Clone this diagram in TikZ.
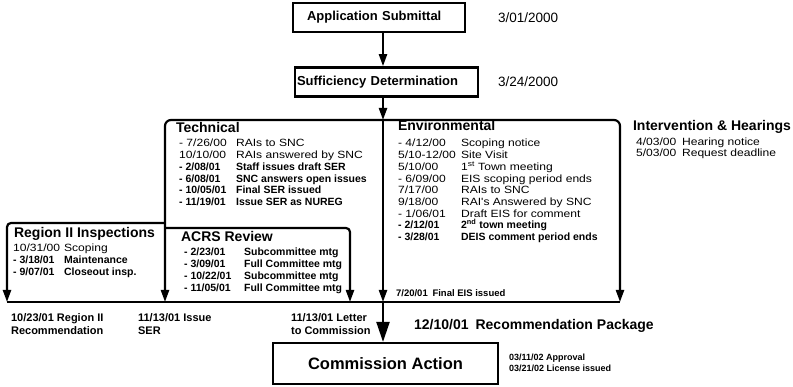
\documentclass[tikz,border=0pt]{standalone}
\usepackage{fontspec}
\setmainfont{Liberation Sans}
\newfontfamily\widefont[FakeStretch=1.15]{Liberation Sans}
\usetikzlibrary{arrows.meta}
\newlength\datewd
\newcommand{\when}[1]{\makebox[\datewd][l]{#1}}
\begin{document}
\begin{tikzpicture}[x=1pt, y=-1pt, line width=2.2pt,
    >={Triangle[length=12pt,width=8pt]},
    stage/.style={draw, line width=2.6pt, minimum height=29pt, inner sep=0pt, font=\fontsize{13}{15}\selectfont\bfseries},
    heading/.style={anchor=base west, inner sep=0pt, font=\fontsize{14}{16}\selectfont\bfseries},
    due/.style={anchor=base west, inner sep=0pt, font=\fontsize{10.5}{12}\selectfont\bfseries},
    done/.style={anchor=base west, inner sep=0pt, font=\fontsize{10.5}{12}\selectfont\widefont},
    milestone/.style={anchor=base west, inner sep=0pt, font=\fontsize{11}{13}\selectfont\bfseries}]
  \useasboundingbox[fill=white] (0,0) rectangle (793,387);

  % stages
  \node[stage, text width=144pt, inner xsep=14pt, align=left] (appsub) at (379,17.5) {Application Submittal};
  \node[stage, text width=179pt, inner xsep=2pt, align=left] (suffdet) at (386.5,82) {Sufficiency Determination};
  \node[stage, minimum width=225pt, minimum height=41pt, line width=2.2pt,
    font=\fontsize{16.5}{18}\selectfont\bfseries] (commission) at (385.5,363.5) {Commission Action};
  \node[anchor=west, inner sep=0pt, font=\fontsize{13.5}{15}\selectfont] (subdate) at (497,17.5) {3/01/2000};
  \node[anchor=west, inner sep=0pt, font=\fontsize{13.5}{15}\selectfont] (suffdate) at (497,82) {3/24/2000};

  % corners of the review tracks
  \coordinate (topbar) at (383,120);
  \coordinate (techcorner) at (165,120);
  \coordinate (envcorner) at (620,120);
  \coordinate (regjoin) at (165,223);
  \coordinate (regcorner) at (7,223);
  \coordinate (acrsjoin) at (165,228);
  \coordinate (acrscorner) at (350,228);
  \coordinate (basew) at (7,302);
  \coordinate (baseser) at (165,302);
  \coordinate (baseacrs) at (350,302);
  \coordinate (basec) at (383,302);
  \coordinate (basee) at (620,302);

  \draw[->] (appsub.south -| topbar) -- (suffdet.north -| topbar);
  \draw[->] (suffdet.south -| topbar) -- (topbar);
  \draw[->] (topbar) -- (basec);
  \draw[<->, rounded corners=6pt] (baseser) -- (techcorner) -- (envcorner) -- (basee);
  \draw[->, rounded corners=4pt] (regjoin) -- (regcorner) -- (basew);
  \draw[->, rounded corners=4pt] (acrsjoin) -- (acrscorner) -- (baseacrs);
  \draw (basew) -- (basee);
  \draw[-{Triangle[length=20pt,width=13pt]}] (basec) -- (commission.north -| basec);

  % headings
  \node[heading] (tech) at (175,133) {Technical};
  \node[heading] (env) at (397,131) {Environmental};
  \node[heading] (hear) at (632,131) {Intervention \& Hearings};
  \node[heading] (region) at (13,238) {Region II Inspections};
  \node[heading] (acrs) at (180,242) {ACRS Review};

  % technical review
  \setlength\datewd{57pt}
  \node[done] (tech1) at (178,147) {\when{- 7/26/00}RAIs to SNC};
  \node[done] (tech2) at (178,158.7) {\when{10/10/00}RAIs answered by SNC};
  \node[due] (tech3) at (178,170.4) {\when{- 2/08/01}Staff issues draft SER};
  \node[due] (tech4) at (178,182.1) {\when{- 6/08/01}SNC answers open issues};
  \node[due] (tech5) at (178,193.8) {\when{- 10/05/01}Final SER issued};
  \node[due] (tech6) at (178,205.5) {\when{- 11/19/01}Issue SER as NUREG};

  % environmental review
  \setlength\datewd{63pt}
  \node[done] (env1) at (397,147) {\when{- 4/12/00}Scoping notice};
  \node[done] (env2) at (397,158.7) {\when{5/10-12/00}Site Visit};
  \node[done] (env3) at (397,170.4) {\when{5/10/00}1\textsuperscript{st} Town meeting};
  \node[done] (env4) at (397,182.1) {\when{- 6/09/00}EIS scoping period ends};
  \node[done] (env5) at (397,193.8) {\when{7/17/00}RAIs to SNC};
  \node[done] (env6) at (397,205.5) {\when{9/18/00}RAI's Answered by SNC};
  \node[done] (env7) at (397,217.2) {\when{- 1/06/01}Draft EIS for comment};
  \node[due] (env8) at (397,228.9) {\when{- 2/12/01}2\textsuperscript{nd} town meeting};
  \node[due] (env9) at (397,240.6) {\when{- 3/28/01}DEIS comment period ends};

  % hearings
  \setlength\datewd{46pt}
  \node[done] (hear1) at (635,146) {\when{4/03/00}Hearing notice};
  \node[done] (hear2) at (635,157) {\when{5/03/00}Request deadline};

  % inspections
  \setlength\datewd{51pt}
  \node[done] (reg1) at (12,252) {\when{10/31/00}Scoping};
  \node[due] (reg2) at (12,263.7) {\when{- 3/18/01}Maintenance};
  \node[due] (reg3) at (12,275.4) {\when{- 9/07/01}Closeout insp.};

  % ACRS
  \setlength\datewd{60pt}
  \node[due] (acrs1) at (183,256) {\when{- 2/23/01}Subcommittee mtg};
  \node[due] (acrs2) at (183,267.7) {\when{- 3/09/01}Full Committee mtg};
  \node[due] (acrs3) at (183,279.4) {\when{- 10/22/01}Subcommittee mtg};
  \node[due] (acrs4) at (183,291.1) {\when{- 11/05/01}Full Committee mtg};

  % milestones
  \node[anchor=base west, inner sep=0pt, font=\fontsize{9.5}{11}\selectfont\bfseries] (feis) at (395,297) {7/20/01\enspace Final EIS issued};
  \node[milestone] (regrec) at (10,322) {10/23/01 Region II};
  \node[milestone] (regrec2) at (10,335) {Recommendation};
  \node[milestone] (ser) at (137,322) {11/13/01 Issue};
  \node[milestone] (ser2) at (137,335) {SER};
  \node[milestone] (letter) at (290,322) {11/13/01 Letter};
  \node[milestone] (letter2) at (290,335) {to Commission};
  \node[anchor=base west, inner sep=0pt, font=\fontsize{14}{16}\selectfont\bfseries] (package) at (413,330) {12/10/01\enspace Recommendation Package};
  \node[anchor=base west, inner sep=0pt, font=\fontsize{9}{11}\selectfont\bfseries] (approval) at (508,360.5) {03/11/02 Approval};
  \node[anchor=base west, inner sep=0pt, font=\fontsize{9}{11}\selectfont\bfseries] (license) at (508,371.5) {03/21/02 License issued};
\end{tikzpicture}
\end{document}
